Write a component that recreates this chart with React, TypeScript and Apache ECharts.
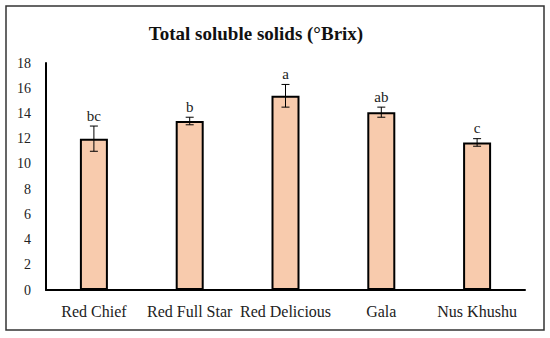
import React, { useEffect, useRef } from "react";
import * as echarts from "echarts";

const categories = ["Red Chief", "Red Full Star", "Red Delicious", "Gala", "Nus Khushu"];
const means = [12.0, 13.4, 15.4, 14.1, 11.7];
const errors = [1.0, 0.3, 0.9, 0.4, 0.3];
const letters = ["bc", "b", "a", "ab", "c"];
const yTicks = { min: 0, max: 18, interval: 2 };

const FONT = "Liberation Serif";

export default function App() {
  const ref = useRef<HTMLDivElement>(null);
  useEffect(() => {
    if (!ref.current) return;
    const chart = echarts.init(ref.current, null, { renderer: "svg" });
    const errData = categories.map((c, i) => [i, means[i], errors[i], letters[i]]);
    chart.setOption({
      animation: false,
      backgroundColor: "#fff",
      title: {
        text: "Total soluble solids (°Brix)",
        left: 251,
        textAlign: "center",
        top: 19,
        textStyle: { fontFamily: FONT, fontSize: 19, fontWeight: "bold", color: "#111" },
      },
      graphic: [
        {
          type: "rect",
          shape: { x: 6, y: 6, width: 538, height: 324 },
          style: { fill: "none", stroke: "#333", lineWidth: 1.5 },
          silent: true,
        },
      ],
      grid: { left: 46, right: 25, top: 63, bottom: 48 },
      xAxis: {
        type: "category",
        data: categories,
        axisLine: { lineStyle: { color: "#000", width: 2 } },
        axisTick: { show: false },
        axisLabel: { fontFamily: FONT, fontSize: 16, color: "#222", margin: 13, interval: 0 },
      },
      yAxis: {
        type: "value",
        min: yTicks.min,
        max: yTicks.max,
        interval: yTicks.interval,
        axisLine: { show: true, lineStyle: { color: "#000", width: 2 } },
        axisTick: { show: false },
        splitLine: { show: false },
        axisLabel: { fontFamily: FONT, fontSize: 14, color: "#222", margin: 15 },
      },
      series: [
        {
          type: "bar",
          data: means,
          barWidth: 28,
          itemStyle: { color: "#F8CBAD", borderColor: "#000", borderWidth: 2 },
          z: 2,
        },
        {
          type: "custom",
          data: errData,
          z: 3,
          renderItem: (params: any, api: any) => {
            const x = api.value(0);
            const m = api.value(1);
            const e = api.value(2);
            const lab = errData[params.dataIndex][3] as string;
            const top = api.coord([x, m + e]);
            const bot = api.coord([x, m - e]);
            const hw = 4;
            const st = { stroke: "#000", lineWidth: 1 };
            return {
              type: "group",
              children: [
                { type: "line", shape: { x1: top[0], y1: top[1], x2: bot[0], y2: bot[1] }, style: st },
                { type: "line", shape: { x1: top[0] - hw, y1: top[1], x2: top[0] + hw, y2: top[1] }, style: st },
                { type: "line", shape: { x1: bot[0] - hw, y1: bot[1], x2: bot[0] + hw, y2: bot[1] }, style: st },
                {
                  type: "text",
                  x: top[0],
                  y: top[1] - 3,
                  style: {
                    text: lab,
                    fontFamily: FONT,
                    fontSize: 15,
                    fill: "#222",
                    textAlign: "center",
                    textVerticalAlign: "bottom",
                  },
                },
              ],
            };
          },
        },
      ],
    });
    return () => chart.dispose();
  }, []);
  return (
    <div
      ref={ref}
      style={{ position: "absolute", left: 0, top: 0, width: 550, height: 338 }}
    />
  );
}
